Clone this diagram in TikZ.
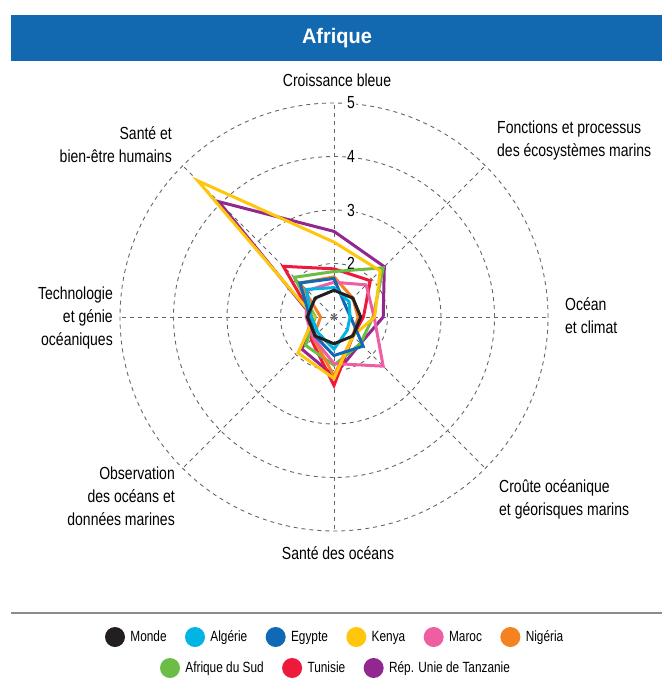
\documentclass[tikz,border=0pt]{standalone}
\usepackage{fontspec}
\setmainfont{Liberation Sans}[FakeStretch=0.8]
\newfontfamily\titlefont{Liberation Sans}[FakeStretch=0.95]
\usetikzlibrary{positioning}

\definecolor{bar}{HTML}{1369B0}
\definecolor{monde}{HTML}{231F20}
\definecolor{algerie}{HTML}{00B5E2}
\definecolor{egypte}{HTML}{0F69B4}
\definecolor{kenya}{HTML}{FFC60B}
\definecolor{maroc}{HTML}{EE5EA1}
\definecolor{nigeria}{HTML}{F58220}
\definecolor{sud}{HTML}{6CBD45}
\definecolor{tunisie}{HTML}{ED1A3B}
\definecolor{tanzanie}{HTML}{92278F}

\tikzset{
  lbl/.style={font=\fontsize{17.5}{23}\selectfont, inner sep=0pt},
  grid/.style={draw=black!60, dash pattern=on 4pt off 4pt, line width=0.9pt},
  serie/.style={line width=3pt},
  dot/.style={circle, fill=#1, minimum size=20pt, inner sep=0pt},
  key/.style={font=\fontsize{14.8}{18}\selectfont, inner sep=0pt, text height=11pt, text depth=3pt},
}

% one polygon: style, then N NE E SE S SW W NW
\newcommand\radar[9]{\draw[serie,#1] (90:{(#2-1)*53.5}) -- (45:{(#3-1)*53.5})
  -- (0:{(#4-1)*53.5}) -- (-45:{(#5-1)*53.5}) -- (-90:{(#6-1)*53.5})
  -- (-135:{(#7-1)*53.5}) -- (180:{(#8-1)*53.5}) -- (135:{(#9-1)*53.5}) -- cycle;}

\begin{document}
\begin{tikzpicture}[x=1pt,y=-1pt]
\useasboundingbox (0,0) rectangle (662,686);

% title
\fill[bar] (11,15) rectangle (662,61);
\node[font=\titlefont\bfseries\fontsize{21}{24}\selectfont, text=white] (titre) at (337,38) {Afrique};

% axis labels
\node[lbl] (cb) at (337,80) {Croissance bleue};
\node[lbl, align=left, anchor=west] (fp) at (497,140) {Fonctions et processus\\des écosystèmes marins};
\node[lbl, align=left, anchor=west] (oc) at (565,316) {Océan\\et climat};
\node[lbl, align=left, anchor=west] (co) at (499,499) {Croûte océanique\\et géorisques marins};
\node[lbl] (so) at (338,553) {Santé des océans};
\node[lbl, align=right, anchor=east] (od) at (175,496) {Observation\\des océans et\\données marines};
\node[lbl, align=right, anchor=east] (tg) at (113,318) {Technologie\\et génie\\océaniques};
\node[lbl, align=right, anchor=east] (sb) at (172,145) {Santé et\\bien-être humains};

\begin{scope}[shift={(334,317)}, yscale=-1]
\foreach \k in {1,...,4} \draw[grid] (0,0) circle[radius=\k*53.5];
\foreach \a in {0,45,...,315} \draw[grid] (0,0) -- (\a:214);
\foreach \k in {2,...,5} \node[lbl, fill=white, inner sep=1.5pt] (n\k) at (17,{(\k-1)*53.5}) {\k};
\node[text=black!60, font=\fontsize{16}{16}\selectfont, inner sep=0pt] (ctr) at (0,0) {$\ast$};

\radar{tanzanie}{2.6}{2.33}{1.92}{1.7}{2.1}{1.85}{1.4}{4.05}
\radar{tunisie}{1.9}{1.96}{1.55}{1.5}{2.28}{1.6}{1.4}{2.34}
\radar{sud}{1.85}{2.3}{1.73}{1.7}{1.9}{1.75}{1.35}{2.05}
\radar{nigeria}{1.75}{1.5}{1.45}{1.5}{2.1}{1.55}{1.25}{1.9}
\radar{maroc}{1.65}{1.85}{1.75}{2.3}{1.87}{1.55}{1.52}{1.7}
\radar{kenya}{2.4}{2.22}{1.76}{1.5}{2.15}{1.95}{1.37}{4.6}
\radar{egypte}{1.72}{1.3}{1.31}{1.77}{1.72}{1.5}{1.45}{1.9}
\radar{algerie}{1.55}{1.4}{1.3}{1.35}{1.6}{1.42}{1.42}{1.73}
\radar{monde}{1.5}{1.5}{1.5}{1.5}{1.5}{1.5}{1.5}{1.5}
\end{scope}

% legend
\draw[black!45, line width=1.5pt] (11,613) -- (662,613);
\node[dot=monde] (d1) at (115,637) {};
\node[key, right=5pt of d1] (t1) {Monde};
\node[dot=algerie, right=18pt of t1] (d2) {};
\node[key, right=5pt of d2] (t2) {Algérie};
\node[dot=egypte, right=18pt of t2] (d3) {};
\node[key, right=5pt of d3] (t3) {Egypte};
\node[dot=kenya, right=18pt of t3] (d4) {};
\node[key, right=5pt of d4] (t4) {Kenya};
\node[dot=maroc, right=18pt of t4] (d5) {};
\node[key, right=5pt of d5] (t5) {Maroc};
\node[dot=nigeria, right=18pt of t5] (d6) {};
\node[key, right=5pt of d6] (t6) {Nigéria};
\node[dot=sud] (d7) at (170,668) {};
\node[key, right=5pt of d7] (t7) {Afrique du Sud};
\node[dot=tunisie, right=18pt of t7] (d8) {};
\node[key, right=5pt of d8] (t8) {Tunisie};
\node[dot=tanzanie, right=18pt of t8] (d9) {};
\node[key, right=5pt of d9] (t9) {Rép. Unie de Tanzanie};
\end{tikzpicture}
\end{document}
